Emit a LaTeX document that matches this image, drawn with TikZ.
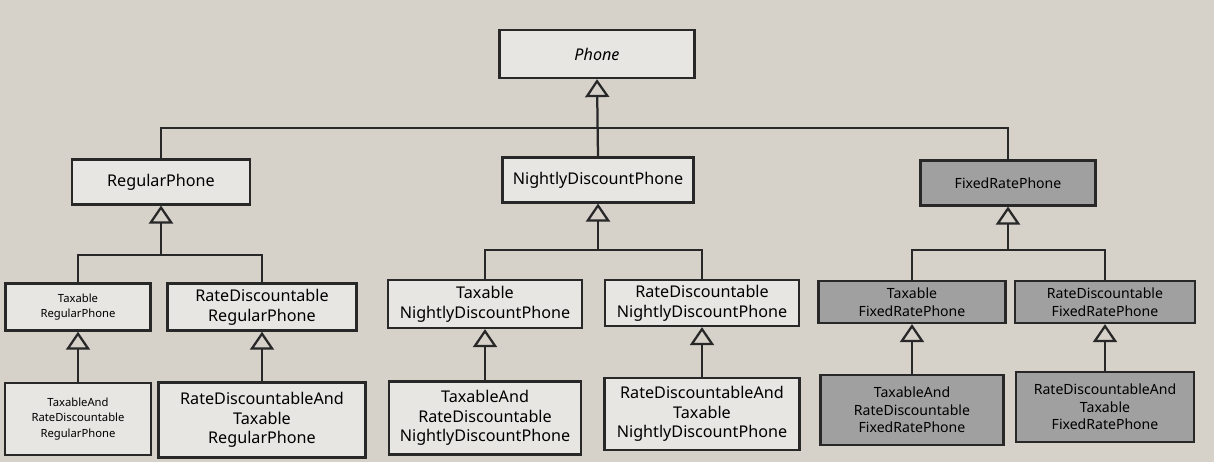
\documentclass[tikz,border=0pt]{standalone}
\usepackage{fontspec}
\setmainfont{Noto Sans}
\usetikzlibrary{arrows.meta}

\definecolor{page}{RGB}{214,209,201}
\definecolor{boxlight}{RGB}{232,230,226}
\definecolor{boxgray}{RGB}{160,160,160}
\definecolor{ink}{RGB}{40,40,40}

\tikzset{
    cls/.style={draw=ink, line width=1.6pt, fill=boxlight, align=center, inner sep=1pt,
        font=\fontsize{11.5}{14}\selectfont},
    fixedcls/.style={cls, fill=boxgray, font=\fontsize{10}{12.5}\selectfont},
    smallcls/.style={cls, font=\fontsize{8}{11}\selectfont},
    inh/.style={draw=ink, line width=1.6pt, -{Triangle[open, length=4.5mm, width=6mm]}},
    bus/.style={draw=ink, line width=1.6pt}
}

\begin{document}
\begin{tikzpicture}[x=0.25mm, y=-0.25mm]
    % 背景
    \fill[page] (0,0) rectangle (1214,462);
    \useasboundingbox (0,0) rectangle (1214,462);

    % 第一层
    \node[cls, minimum width=48.8mm, minimum height=12mm] (Phone) at (597,54) {\itshape Phone};

    % 第二层
    \node[cls, minimum width=44.5mm, minimum height=11.2mm] (Regular) at (161,182) {RegularPhone};
    \node[cls, minimum width=47.8mm, minimum height=11.2mm] (Nightly) at (598,180) {NightlyDiscountPhone};
    \node[fixedcls, minimum width=43.8mm, minimum height=11.2mm] (Fixed) at (1008,183) {FixedRatePhone};

    % 第三层
    \node[smallcls, minimum width=36.2mm, minimum height=11.8mm] (TaxReg) at (78,307) {Taxable\\RegularPhone};
    \node[cls, minimum width=47.2mm, minimum height=11.8mm] (RdReg) at (262,307) {RateDiscountable\\RegularPhone};
    \node[cls, minimum width=48.5mm, minimum height=12mm] (TaxNight) at (485,304) {Taxable\\NightlyDiscountPhone};
    \node[cls, minimum width=48.5mm, minimum height=11.5mm] (RdNight) at (702,303) {RateDiscountable\\NightlyDiscountPhone};
    \node[fixedcls, minimum width=46.8mm, minimum height=10.5mm] (TaxFixed) at (912,302) {Taxable\\FixedRatePhone};
    \node[fixedcls, minimum width=45mm, minimum height=10.5mm] (RdFixed) at (1105,302) {RateDiscountable\\FixedRatePhone};

    % 第四层
    \node[smallcls, minimum width=36.5mm, minimum height=18mm] (TaxRdReg) at (78,419) {TaxableAnd\\RateDiscountable\\RegularPhone};
    \node[cls, minimum width=51.8mm, minimum height=18.8mm] (RdTaxReg) at (262,420) {RateDiscountableAnd\\Taxable\\RegularPhone};
    \node[cls, minimum width=48mm, minimum height=18.2mm] (TaxRdNight) at (485,418) {TaxableAnd\\RateDiscountable\\NightlyDiscountPhone};
    \node[cls, minimum width=48.8mm, minimum height=18mm] (RdTaxNight) at (702,414) {RateDiscountableAnd\\Taxable\\NightlyDiscountPhone};
    \node[fixedcls, minimum width=45.8mm, minimum height=17.5mm] (TaxRdFixed) at (912,410) {TaxableAnd\\RateDiscountable\\FixedRatePhone};
    \node[fixedcls, minimum width=44.5mm, minimum height=17.5mm] (RdTaxFixed) at (1105,407) {RateDiscountableAnd\\Taxable\\FixedRatePhone};

    % 连线
    \coordinate (topBus) at (598,128);
    \coordinate (regBus) at (161,255);
    \coordinate (nightBus) at (598,250);
    \coordinate (fixedBus) at (1008,250);

    \draw[bus] (Regular.north) |- (topBus) -| (Fixed.north);
    \draw[inh] (Nightly.north) -- (Phone.south);

    \draw[bus] (TaxReg.north) |- (regBus) -| (RdReg.north);
    \draw[inh] (regBus) -- (Regular.south);
    \draw[bus] (TaxNight.north) |- (nightBus) -| (RdNight.north);
    \draw[inh] (nightBus) -- (Nightly.south);
    \draw[bus] (TaxFixed.north) |- (fixedBus) -| (RdFixed.north);
    \draw[inh] (fixedBus) -- (Fixed.south);

    \draw[inh] (TaxRdReg.north) -- (TaxReg.south);
    \draw[inh] (RdTaxReg.north) -- (RdReg.south);
    \draw[inh] (TaxRdNight.north) -- (TaxNight.south);
    \draw[inh] (RdTaxNight.north) -- (RdNight.south);
    \draw[inh] (TaxRdFixed.north) -- (TaxFixed.south);
    \draw[inh] (RdTaxFixed.north) -- (RdFixed.south);
\end{tikzpicture}
\end{document}
